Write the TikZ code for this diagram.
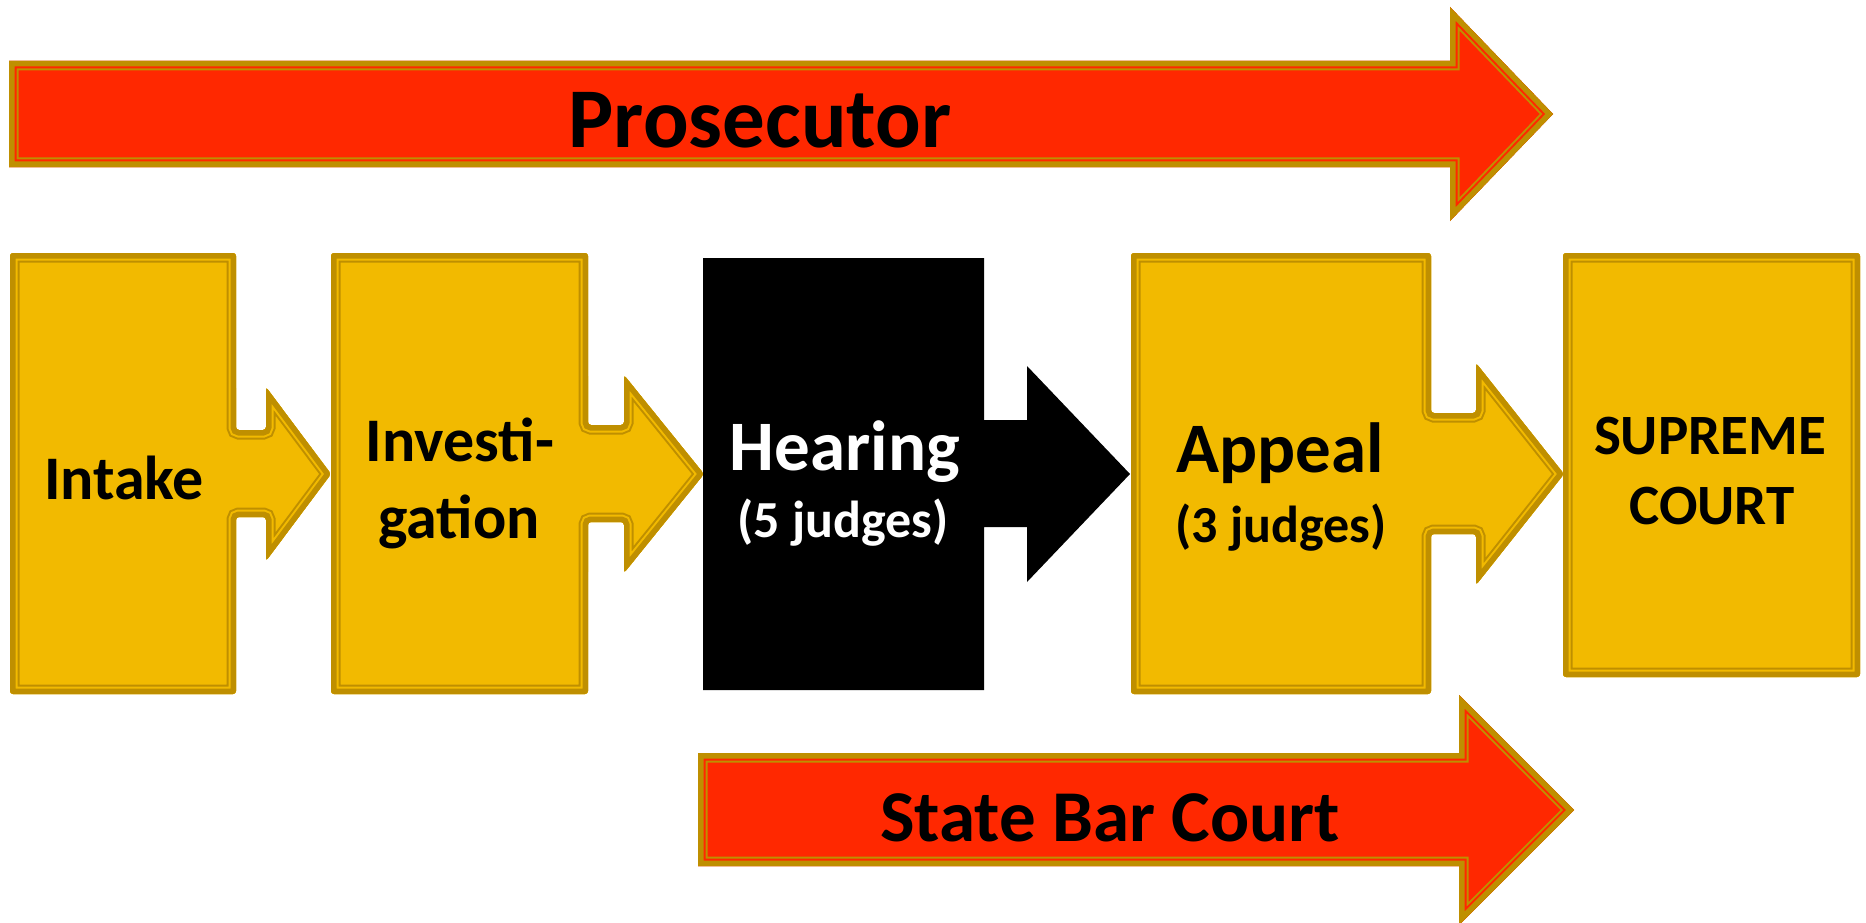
\documentclass[tikz,border=0pt]{standalone}
\usepackage{fontspec}
\setmainfont{Carlito}
\definecolor{boxfill}{RGB}{242,186,0}
\definecolor{boxline}{RGB}{191,143,0}
\definecolor{arrowred}{RGB}{255,40,0}
% #1 fill colour, #2 path options, #3 path
\newcommand\framedshape[3]{%
  \begin{scope}
    \clip[#2] #3;
    \fill[#1,#2] #3;
    \draw[boxline,line width=19pt,#2] #3;
    \draw[#1,line width=15pt,#2] #3;
    \draw[boxline,line width=11pt,#2] #3;
  \end{scope}}
\tikzset{
  lbl/.style={anchor=base,inner sep=0pt,font=\bfseries},
  bigtxt/.style={lbl,font=\bfseries\fontsize{85}{90}\selectfont},
  bartxt/.style={lbl,font=\bfseries\fontsize{73}{80}\selectfont},
  boxtxt/.style={lbl,font=\bfseries\fontsize{62}{70}\selectfont},
  headtxt/.style={lbl,font=\bfseries\fontsize{71}{80}\selectfont},
  subtxt/.style={lbl,font=\bfseries\fontsize{52}{60}\selectfont},
  suptxt/.style={lbl,font=\bfseries\fontsize{57}{64}\selectfont},
}
\begin{document}
\begin{tikzpicture}[x=1pt,y=-1pt]
\useasboundingbox (0,0) rectangle (1866,923);
% Prosecutor arrow
\framedshape{arrowred}{}{(9,61) -- (1450,61) -- (1450,7) -- (1553,114) -- (1450,221) -- (1450,167) -- (9,167) -- cycle}
\node[bigtxt] (prosecutor) at (760,148) {Prosecutor};
% Intake
\framedshape{boxfill}{rounded corners=3pt}{(10,253) -- (236,253) -- (236,430) -- (266,430) -- (266,387) -- (331,474) -- (266,561) -- (266,517) -- (236,517) -- (236,694) -- (10,694) -- cycle}
% Investigation
\framedshape{boxfill}{rounded corners=3pt}{(331,253) -- (588,253) -- (588,425) -- (624,425) -- (624,375) -- (704,474) -- (624,573) -- (624,522) -- (588,522) -- (588,694) -- (331,694) -- cycle}
% Hearing
\fill[black] (703,258) -- (984,258) -- (984,420) -- (1027,420) -- (1027,366) -- (1130,474) -- (1027,582) -- (1027,527) -- (984,527) -- (984,690) -- (703,690) -- cycle;
% Appeal
\framedshape{boxfill}{rounded corners=3pt}{(1131,253) -- (1431,253) -- (1431,413) -- (1476,413) -- (1476,363) -- (1564,474) -- (1476,585) -- (1476,534) -- (1431,534) -- (1431,694) -- (1131,694) -- cycle}
% Supreme Court
\framedshape{boxfill}{rounded corners=3pt}{(1563,253) -- (1860,253) -- (1860,677) -- (1563,677) -- cycle}
% State Bar Court arrow
\framedshape{arrowred}{}{(698,753) -- (1459,753) -- (1459,695) -- (1574,810) -- (1459,925) -- (1459,866) -- (698,866) -- cycle}
\node[bartxt] (statebar) at (1110,841) {State Bar Court};
% labels
\node[boxtxt] (intake) at (124,499) {Intake};
\node[boxtxt] (invA) at (460,461) {Investi-};
\node[boxtxt] (invB) at (459,538) {gation};
\node[headtxt,text=white] (hearing) at (845,470) {Hearing};
\node[subtxt,text=white] (hearingsub) at (843,537) {(5 judges)};
\node[headtxt] (appeal) at (1280,472) {Appeal};
\node[subtxt] (appealsub) at (1281,542) {(3 judges)};
\node[suptxt] (supA) at (1710,454) {SUPREME};
\node[suptxt] (supB) at (1712,524) {COURT};
\end{tikzpicture}
\end{document}
